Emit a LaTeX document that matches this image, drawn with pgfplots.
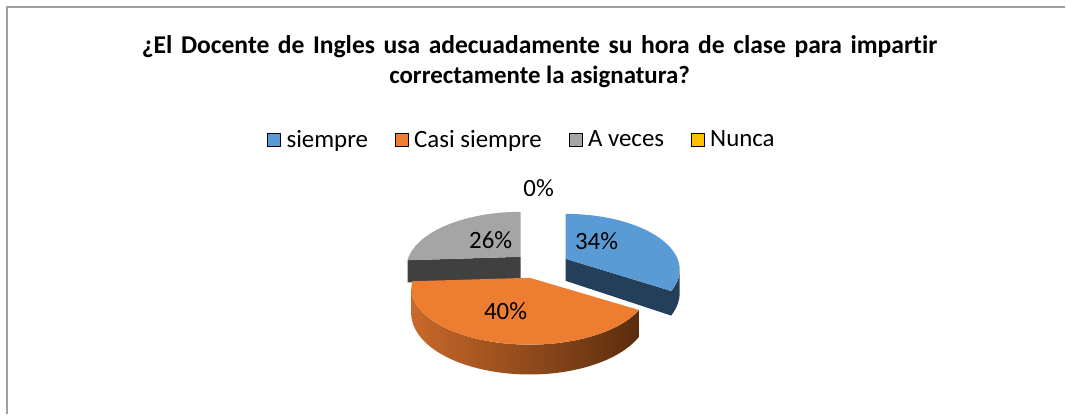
\documentclass[border=0pt]{standalone}
\usepackage{pgfplots}
\pgfplotsset{compat=1.18}
\usepackage{fontspec}
\setmainfont{Carlito}[Ligatures=NoCommon]
\definecolor{cBlue}{HTML}{5B9BD5}
\definecolor{cBlueD}{HTML}{243F5A}
\definecolor{cOr}{HTML}{ED7D31}
\definecolor{cOrL}{HTML}{C8692A}
\definecolor{cOrD}{HTML}{5A2D0E}
\definecolor{cGray}{HTML}{A5A5A5}
\definecolor{cGrayD}{HTML}{404040}
\definecolor{cYel}{HTML}{FFC000}
\definecolor{cFrame}{HTML}{A0A0A0}
\newcommand\lbl{\fontsize{18.67}{22}\selectfont}
% data (percent)
\def\pS{34}\def\pC{40}\def\pA{26}\def\pN{0}
\begin{document}
\begin{tikzpicture}
\pgfmathsetmacro\tB{3.6*\pS}
\pgfmathsetmacro\tC{\tB+3.6*\pC}
\pgfmathsetmacro\tD{\tC+3.6*\pA}
\pgfmathsetmacro\sil{acos(-0.196)}
\pgfmathsetmacro\silL{360-\sil}
\begin{axis}[
  scale only axis, width=799.5pt, height=310.5pt,
  xmin=0, xmax=1066, ymin=0, ymax=414,
  hide axis, clip=false,
  declare function={
    sp(\a)=1/(1+0.196*cos(\a));
    ex(\a)=sin(\a)*sp(\a);
    ey(\a)=53.8*cos(\a)*sp(\a);
  },
  title={{\fontsize{19.2}{22.5}\selectfont\spaceskip=6.4pt\relax ¿El Docente de Ingles usa adecuadamente su hora de clase para impart\kern0pt ir}\\correctamente la asignatura?},
  title style={at={(0.50657,0.831)}, anchor=center, align=center,
    font=\fontsize{18.67}{22.5}\selectfont\bfseries},
  legend columns=-1,
  legend image code/.code={\fill[#1] (0pt,-4.875pt) rectangle (9.75pt,4.875pt);},
  legend style={at={(0.4902,0.6618)}, anchor=center, draw=none, fill=none,
    font=\lbl, nodes={inner xsep=2pt},
    /tikz/every odd column/.append style={column sep=2.5pt},
    /tikz/every even column/.append style={column sep=18pt}},
]
\addplot[draw=none, forget plot] coordinates {(0,0) (1066,414)};
\addplot[cFrame, line width=1.2pt, forget plot] coordinates {(1066,407) (7,407) (7,0)};
% ---- gray slice (A veces) ----
\pgfmathsetmacro\gxo{521+112*ex(\tC)}
\pgfmathsetmacro\gyo{157+ey(\tC)}
\pgfmathsetmacro\gyb{\gyo-22*sp(\tC)}
\addplot[fill=cGrayD, draw=none, forget plot] coordinates {(521,157) (\gxo,\gyo) (\gxo,\gyb) (521,135)};
\addplot[fill=cGray, draw=none, forget plot, domain=0:1.01, samples=102, variable=\t]
  ({521+(\t<1.005?1:0)*112*ex(\tC+min(\t,1)*(\tD-\tC))},
   {157+(\t<1.005?1:0)*ey(\tC+min(\t,1)*(\tD-\tC))});
% ---- blue slice (siempre) ----
\addplot[fill=cBlueD, draw=none, forget plot, domain=0:2.01, samples=202, variable=\t]
  ({566+112*ex(\t<1.005 ? \sil+\t*(\tB-\sil) : \tB-(\t-1.01)*(\tB-\sil))},
   {155+ey(\t<1.005 ? \sil+\t*(\tB-\sil) : \tB-(\t-1.01)*(\tB-\sil))
      -(\t<1.005?0:1)*22*sp(\t<1.005 ? \sil+\t*(\tB-\sil) : \tB-(\t-1.01)*(\tB-\sil))});
\pgfmathsetmacro\bxo{566+112*ex(\tB)}
\pgfmathsetmacro\byo{155+ey(\tB)}
\pgfmathsetmacro\byb{\byo-22*sp(\tB)}
\addplot[fill=cBlueD, draw=none, forget plot] coordinates {(566,155) (\bxo,\byo) (\bxo,\byb) (566,133)};
\addplot[fill=cBlue, draw=none, forget plot, domain=0:1.01, samples=102, variable=\t]
  ({566+(\t<1.005?1:0)*112*ex(min(\t,1)*\tB)},
   {155+(\t<1.005?1:0)*ey(min(\t,1)*\tB)});
% ---- orange slice (Casi siempre) ----
\addplot[left color=cOrL, right color=cOrD, draw=none, forget plot, domain=0:2.01, samples=202, variable=\t]
  ({530+116*ex(\t<1.005 ? \tB+\t*(\silL-\tB) : \silL-(\t-1.01)*(\silL-\tB))},
   {136+ey(\t<1.005 ? \tB+\t*(\silL-\tB) : \silL-(\t-1.01)*(\silL-\tB))
      -(\t<1.005?0:1)*24*sp(\t<1.005 ? \tB+\t*(\silL-\tB) : \silL-(\t-1.01)*(\silL-\tB))});
\addplot[fill=cOr, draw=none, forget plot, domain=0:1.01, samples=102, variable=\t]
  ({530+(\t<1.005?1:0)*116*ex(\tB+min(\t,1)*(\tC-\tB))},
   {136+(\t<1.005?1:0)*ey(\tB+min(\t,1)*(\tC-\tB))});
% ---- data labels ----
\node[font=\lbl] at (axis cs:597,173) {34\%};
\node[font=\lbl] at (axis cs:506,103) {40\%};
\node[font=\lbl] at (axis cs:491,174) {26\%};
\node[font=\lbl] at (axis cs:539,226) {0\%};
% ---- legend ----
\addlegendimage{fill=cBlue}\addlegendentry{siempre}
\addlegendimage{fill=cOr}\addlegendentry{Casi siempre}
\addlegendimage{fill=cGray}\addlegendentry{A veces}
\addlegendimage{fill=cYel}\addlegendentry{Nunca}
\end{axis}
\end{tikzpicture}
\end{document}
